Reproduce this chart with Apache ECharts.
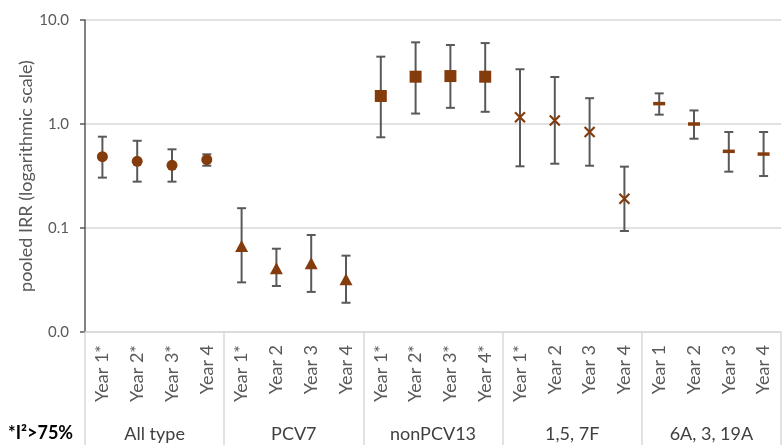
<!DOCTYPE html>
<html>
<head>
<meta charset="utf-8">
<script src="https://cdn.jsdelivr.net/npm/echarts@6/dist/echarts.min.js"></script>
<style>html,body{margin:0;padding:0;background:#fff;}#chart{width:782px;height:445px;}</style>
</head>
<body>
<div id="chart"></div>
<script>
const categories = ['Year 1*','Year 2*','Year 3*','Year 4','Year 1*','Year 2','Year 3','Year 4','Year 1*','Year 2*','Year 3*','Year 4*','Year 1*','Year 2','Year 3','Year 4','Year 1','Year 2','Year 3','Year 4'];
const groups = ['All type','PCV7','nonPCV13','1,5, 7F','6A, 3, 19A'];
const irr   = [0.485,0.438,0.401,0.454, 0.0671,0.041,0.0458,0.0321, 1.86,2.85,2.89,2.85, 1.16,1.08,0.838,0.191, 1.57,1.0,0.546,0.514];
const lower = [0.305,0.279,0.279,0.397, 0.030,0.0277,0.0243,0.0191, 0.745,1.26,1.43,1.31, 0.392,0.415,0.397,0.0936, 1.23,0.722,0.348,0.316];
const upper = [0.755,0.69,0.571,0.511, 0.155,0.0632,0.0857,0.0542, 4.44,6.1,5.75,6.0, 3.36,2.83,1.77,0.389, 1.97,1.35,0.838,0.838];
const yTicks = [0.01, 0.1, 1, 10];
const footnote = '*I\u00B2>75%';

const FONT = 'Lato';
const BROWN = '#843c0c';
const symbols = [
  {symbol:'circle', size:11, stroke:false},
  {symbol:'triangle', size:[13,12], stroke:false},
  {symbol:'rect', size:12, stroke:false},
  {symbol:'path://M0,0L10,10M10,0L0,10', size:10, stroke:true},
  {symbol:'rect', size:[12,3.5], stroke:false}
];

const scatterSeries = groups.map((g, gi) => {
  const data = [];
  for (let i = gi*4; i < gi*4+4; i++) data.push([i, irr[i]]);
  const s = symbols[gi];
  return {
    type:'scatter', xAxisIndex:0, data: data, symbol:s.symbol, symbolSize:s.size, z:5,
    itemStyle: s.stroke ? {color:'rgba(0,0,0,0)', borderColor:BROWN, borderWidth:2.2, opacity:1} : {color:BROWN, opacity:1},
    silent:true
  };
});

const errData = categories.map((c, i) => [i, lower[i], upper[i]]);

const chart = echarts.init(document.getElementById('chart'));
chart.setOption({
  animation:false,
  grid:{left:85, right:1, top:20, bottom:113},
  xAxis:[
    {type:'category', data:categories, position:'bottom',
     axisLine:{show:false}, axisTick:{show:false},
     axisLabel:{rotate:90, interval:0, margin:13, fontFamily:FONT, fontSize:18, color:'#595959'}},
    {type:'category', data:groups, position:'bottom',
     axisLine:{show:true, lineStyle:{color:'#d9d9d9', width:1.5}},
     axisTick:{show:true, interval:0, length:113, lineStyle:{color:'#d9d9d9', width:1.5}},
     axisLabel:{interval:0, margin:93, fontFamily:FONT, fontSize:18, color:'#404040'}}
  ],
  yAxis:{type:'log', logBase:10, min:yTicks[0], max:yTicks[yTicks.length-1],
    name:'pooled IRR (logarithmic scale)', nameLocation:'middle', nameGap:50, nameMoveOverlap:false,
    nameTextStyle:{fontFamily:FONT, fontSize:18, color:'#595959'},
    axisLine:{show:true, lineStyle:{color:'#595959', width:1.5}},
    axisTick:{show:true, length:5, lineStyle:{color:'#595959', width:1.5}},
    axisLabel:{margin:16, fontFamily:FONT, fontSize:15, color:'#595959', formatter:v => Number(v).toFixed(1)},
    splitLine:{show:true, lineStyle:{color:'#d9d9d9', width:1.5}}
  },
  graphic:[{type:'text', left:8, top:424, style:{text:footnote, fontFamily:FONT, fontSize:18, fontWeight:'bold', fill:'#000'}}],
  series:[
    {type:'custom', xAxisIndex:0, data:errData, z:3, silent:true,
     renderItem:function(params, api){
       const x = api.value(0);
       const lo = api.coord([x, api.value(1)]);
       const hi = api.coord([x, api.value(2)]);
       const w = 4.5;
       const st = {stroke:'#595959', lineWidth:2, fill:null};
       return {type:'group', children:[
         {type:'line', shape:{x1:lo[0], y1:lo[1], x2:hi[0], y2:hi[1]}, style:st},
         {type:'line', shape:{x1:hi[0]-w, y1:hi[1], x2:hi[0]+w, y2:hi[1]}, style:st},
         {type:'line', shape:{x1:lo[0]-w, y1:lo[1], x2:lo[0]+w, y2:lo[1]}, style:st}
       ]};
     }}
  ].concat(scatterSeries)
});
</script>
</body>
</html>
